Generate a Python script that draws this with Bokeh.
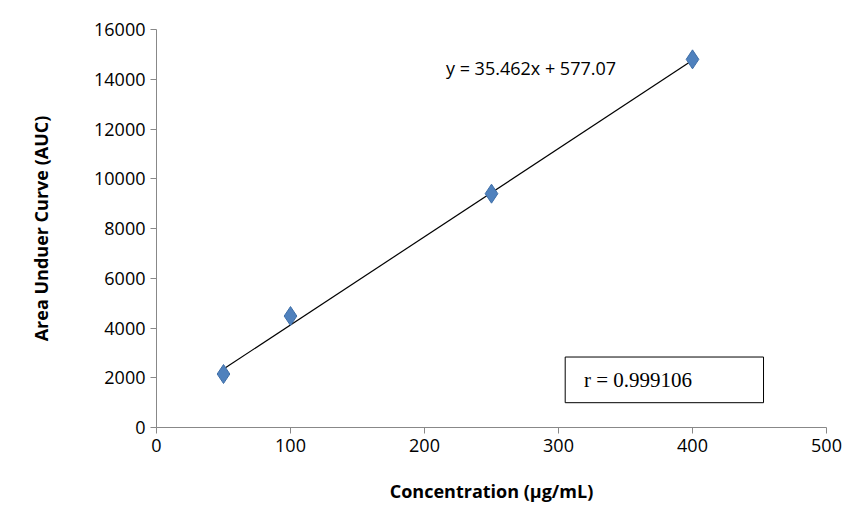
from bokeh.plotting import figure
from bokeh.models import BoxAnnotation, Label, SingleIntervalTicker
from bokeh.embed import file_html
from bokeh.resources import INLINE
import numpy as np

conc = [50, 100, 250, 400]
auc = [2150, 4480, 9400, 14800]
slope = 35.462
intercept = 577.07
r_value = 0.999106

p = figure(width=850, height=505, x_range=(0, 500), y_range=(0, 16000),
           output_backend="svg", toolbar_location=None,
           min_border_left=156, min_border_right=24, min_border_top=29, min_border_bottom=40)
p.outline_line_color = None
p.border_fill_color = "white"
p.xgrid.visible = False
p.ygrid.visible = False

fit_x = np.array([min(conc), max(conc)])
p.line(fit_x, slope * fit_x + intercept, line_color="black", line_width=1.2)
p.scatter(conc, auc, marker="diamond", size=19, fill_color="#4F81BD", line_color="#3F6FA8")

p.xaxis.ticker = SingleIntervalTicker(interval=100)
p.yaxis.ticker = SingleIntervalTicker(interval=2000)
for ax in (p.xaxis[0], p.yaxis[0]):
    ax.axis_line_color = "#888888"
    ax.major_tick_line_color = "#888888"
    ax.major_tick_out = 6
    ax.major_tick_in = 0
    ax.minor_tick_line_color = None
    ax.major_label_text_font = "Open Sans"
    ax.major_label_text_font_size = "18px"
    ax.major_label_text_color = "black"
    ax.axis_label_text_font = "Open Sans"
    ax.axis_label_text_font_style = "bold"
    ax.axis_label_text_font_size = "18px"
    ax.axis_label_text_color = "black"
p.xaxis.axis_label = "Concentration (µg/mL)"
p.yaxis.axis_label = "Area Unduer Curve (AUC)"
p.xaxis.axis_label_standoff = 24
p.yaxis.axis_label_standoff = 38

p.add_layout(Label(x=216, y=14444, text=f"y = {slope}x + {intercept}",
                   text_font="Open Sans", text_font_size="18px", text_baseline="middle",
                   text_color="black"))
p.add_layout(BoxAnnotation(left=305, right=453, bottom=997, top=2833,
                           fill_color="white", fill_alpha=1, line_color="black",
                           line_alpha=1, line_width=1))
p.add_layout(Label(x=319, y=1915, text=f"r = {r_value}", text_font="Liberation Serif",
                   text_font_size="21px", text_baseline="middle", text_color="black"))

open("out.html", "w").write(file_html(p, INLINE))
